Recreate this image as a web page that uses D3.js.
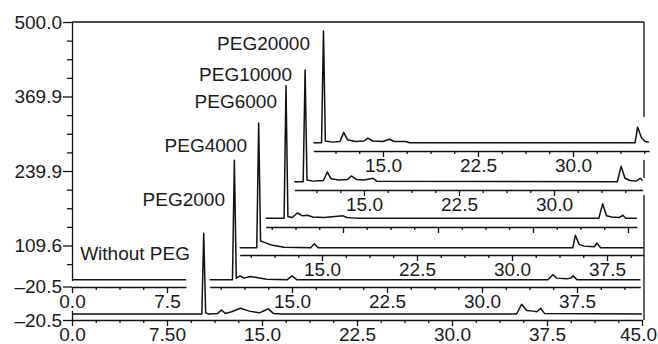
<!DOCTYPE html>
<html lang="en">
<head>
<meta charset="UTF-8">
<title>PEG chromatograms</title>
<script src="https://cdn.jsdelivr.net/npm/d3@7"></script>
<style>
  body { margin: 0; background: #fff; }
  svg text { font-family: "Liberation Sans", Arial, sans-serif; font-size: 19px; fill: #1a1a1a; }
  .trace { fill: none; stroke: #111; stroke-width: 1.5; stroke-linejoin: round; }
  .axis path, .axis line { stroke: #111; stroke-width: 1.3; }
</style>
</head>
<body>
<svg id="chart" width="658" height="344"></svg>
<script>
// one run per row, front (bottom) to back (top)
var sampleNames = ["Without PEG", "PEG2000", "PEG4000", "PEG6000", "PEG10000", "PEG20000"];

// retention time (min) / signal
var timeNoPeg = [0, 10.25, 10.4, 10.55, 10.8, 11.5, 11.8, 12.1, 12.6, 13.3, 14.0, 14.8, 15.2, 15.5, 15.9, 16.5, 35.1, 35.5, 35.9, 36.4, 36.7, 37.0, 37.3, 45];
var signalNoPeg = [-10, -10, 131, -8, -10, -9, -3, -9, -6, 0, -5, -8, -4, -1, -9, -10, -10, 7, -4, -5, -6, 0, -9, -10];

var timePeg2000 = [8.5, 10.3, 10.45, 10.6, 10.9, 11.2, 11.7, 12.2, 13.0, 14.6, 15.0, 15.4, 35.2, 35.6, 35.9, 36.7, 37.0, 37.2, 37.5, 42.5];
var signalPeg2000 = [-8, -8, 201, -5, -1, -5, -2, -4, -7, -8, -1, -8, -8, 1, -5, -6, -5, -1, -8, -8];

var timePeg4000 = [8.5, 9.85, 10.0, 10.15, 10.4, 11.0, 12.0, 14.1, 14.4, 14.7, 34.8, 35.0, 35.3, 35.7, 36.5, 36.7, 37.0, 40.4];
var signalPeg4000 = [-8, -8, 210, 4, 2, -3, -7, -8, -1, -8, -8, 14, -2, -5, -6, 0, -8, -8];

var timePeg6000 = [8.9, 10.35, 10.5, 10.65, 11.0, 11.4, 11.8, 12.2, 12.6, 13.5, 15.0, 15.3, 16.0, 35.2, 35.5, 35.8, 36.2, 36.8, 37.1, 37.3, 38.2];
var signalPeg6000 = [-5, -5, 226, -2, -4, 4, -1, 0, -3, -4, -1, -4, -5, -5, 20, -1, -3, -4, 0, -5, -5];

var timePeg10000 = [9.5, 10.2, 10.35, 10.5, 11.0, 11.8, 12.1, 12.4, 13.0, 13.7, 14.0, 14.4, 15.0, 15.7, 16.0, 35.0, 35.3, 35.6, 36.0, 36.5, 36.8, 37.0];
var signalPeg10000 = [-6, -6, 189, -3, -5, -4, 11, -1, -3, -2, 4, -2, -3, 0, -5, -6, 21, 0, -4, -5, 0, -4];

var timePeg20000 = [9.5, 10.15, 10.3, 10.45, 11.0, 11.6, 11.9, 12.2, 12.8, 13.5, 13.8, 14.2, 15.0, 15.5, 15.9, 16.8, 17.1, 34.9, 35.1, 35.4, 35.7, 36.0];
var signalPeg20000 = [-6, -6, 189, -3, -5, -4, 12, -1, -4, -3, 2, -3, -4, 0, -4, -4, -6, -6, 21, 3, -4, -5];

// the short leftover piece drawn on the second level
var timeStub = [0, 9];
var signalStub = [-8, -8];

var yTicks = [500, 369.875, 239.75, 109.625, -20.5];
var yTickLabels = ["500.0", "369.9", "239.9", "109.6", "\u201320.5"];
var xTicks = [0, 7.5, 15, 22.5, 30, 37.5, 45];
var xTickLabels = ["0.0", "7.50", "15.0", "22.5", "30.0", "37.5", "45.0"];

var runs = [
    { name: sampleNames[0], t: timeNoPeg, v: signalNoPeg },
    { name: sampleNames[1], t: timePeg2000, v: signalPeg2000 },
    { name: sampleNames[2], t: timePeg4000, v: signalPeg4000 },
    { name: sampleNames[3], t: timePeg6000, v: signalPeg6000 },
    { name: sampleNames[4], t: timePeg10000, v: signalPeg10000 },
    { name: sampleNames[5], t: timePeg20000, v: signalPeg20000 }
];

// stacking offsets in px (x right, y up) and which rows print numbers
var shiftX = [0, 30, 60, 81, 102, 121];
var shiftY = [0, 33, 65, 93, 130, 169];
var showNumbers = [true, true, true, false, true, true];
// name tags: right end x, baseline y
var tagPos = [[190, 260], [225, 206], [247, 152], [277, 108], [292, 81], [310, 50]];

var svg = d3.select("#chart");
var x = d3.scaleLinear().domain([0, 45]).range([72, 642]);
var y = d3.scaleLinear().domain([-20.5, 500]).range([320, 22]);
var frameRight = 644;

var line = d3.line()
    .x(function (d) { return x(d[0]); })
    .y(function (d) { return y(d[1]); });

// frame: top + right (right edge is broken where back rows pass over it)
svg.append("line").attr("x1", x(0)).attr("x2", frameRight)
    .attr("y1", y(500)).attr("y2", y(500))
    .attr("stroke", "#111").attr("stroke-width", 1.3);
var rightSegs = [[22, 117], [160, 178], [195, 320]];
rightSegs.forEach(function (s) {
    svg.append("line").attr("x1", frameRight).attr("x2", frameRight)
        .attr("y1", s[0]).attr("y2", s[1])
        .attr("stroke", "#111").attr("stroke-width", 1.3);
});

// y axis
var yAxis = svg.append("g").attr("class", "axis")
    .attr("transform", "translate(" + x(0) + ",0)")
    .call(d3.axisLeft(y).tickValues(yTicks)
        .tickFormat(function (d, i) { return yTickLabels[i]; })
        .tickSize(9).tickSizeOuter(0).tickPadding(1));
yAxis.selectAll("text").attr("dy", "0.34em");
var yStep = (500 + 20.5) / 16;
var yMinor = d3.range(1, 16).filter(function (k) { return k % 4 !== 0; })
    .map(function (k) { return -20.5 + k * yStep; });
svg.append("g").attr("class", "axis")
    .attr("transform", "translate(" + x(0) + ",0)")
    .call(d3.axisLeft(y).tickValues(yMinor).tickFormat("").tickSize(5).tickSizeOuter(0))
    .select(".domain").remove();

function drawRow(times, values, dx, dy, withNumbers, labelFn) {
    var t0 = times[0], t1 = times[times.length - 1];
    var g = svg.append("g").attr("transform", "translate(" + dx + "," + (-dy) + ")");
    var xs = d3.scaleLinear().domain([t0, t1]).range([x(t0), x(t1)]);
    var majors = xTicks.filter(function (t) { return t >= t0 - 1e-6 && t <= t1 + 1e-6; });
    var minors = d3.range(0, 45.01, 1.875).filter(function (t) {
        return t >= t0 && t <= t1 && majors.indexOf(t) < 0;
    });
    var ax = g.append("g").attr("class", "axis")
        .attr("transform", "translate(0," + y(-20.5) + ")")
        .call(d3.axisBottom(xs).tickValues(majors).tickSize(6).tickSizeOuter(0)
            .tickFormat(withNumbers ? labelFn : ""));
    ax.selectAll("text").attr("y", 8).attr("dy", "0.71em")
        .attr("dx", function (d) { return d === 45 ? -4 : 0; });
    g.append("g").attr("class", "axis")
        .attr("transform", "translate(0," + y(-20.5) + ")")
        .call(d3.axisBottom(xs).tickValues(minors).tickSize(3).tickFormat(""))
        .select(".domain").remove();
    g.append("path").attr("class", "trace")
        .attr("d", line(d3.zip(times, values)));
    return g;
}

function fmt(d) { return xTickLabels[xTicks.indexOf(d)]; }

// back rows first so front rows sit on top
for (var i = runs.length - 1; i >= 1; i--) {
    drawRow(runs[i].t, runs[i].v, shiftX[i], shiftY[i], showNumbers[i], fmt);
}

// stub on the second level, it hides the y axis under its numbers
svg.append("rect").attr("x", 55).attr("y", y(-20.5) - shiftY[1] - 6)
    .attr("width", 135).attr("height", 30).attr("fill", "#fff");
drawRow(timeStub, signalStub, 0, shiftY[1], true, function (d) { return d === 7.5 ? "7.5" : fmt(d); });
svg.append("line").attr("x1", x(0) - 9).attr("x2", x(0))
    .attr("y1", y(-20.5) - shiftY[1]).attr("y2", y(-20.5) - shiftY[1])
    .attr("stroke", "#111").attr("stroke-width", 1.3);
svg.append("text").attr("x", x(0) - 10).attr("y", y(-20.5) - shiftY[1])
    .attr("dy", "0.34em").attr("text-anchor", "end").text(yTickLabels[4]);

drawRow(runs[0].t, runs[0].v, shiftX[0], shiftY[0], true, fmt);

// sample names beside their main peaks
svg.selectAll(".tag").data(runs).enter().append("text")
    .attr("class", "tag")
    .attr("x", function (d, i) { return tagPos[i][0]; })
    .attr("y", function (d, i) { return tagPos[i][1]; })
    .attr("text-anchor", "end")
    .text(function (d) { return d.name; });
</script>
</body>
</html>
